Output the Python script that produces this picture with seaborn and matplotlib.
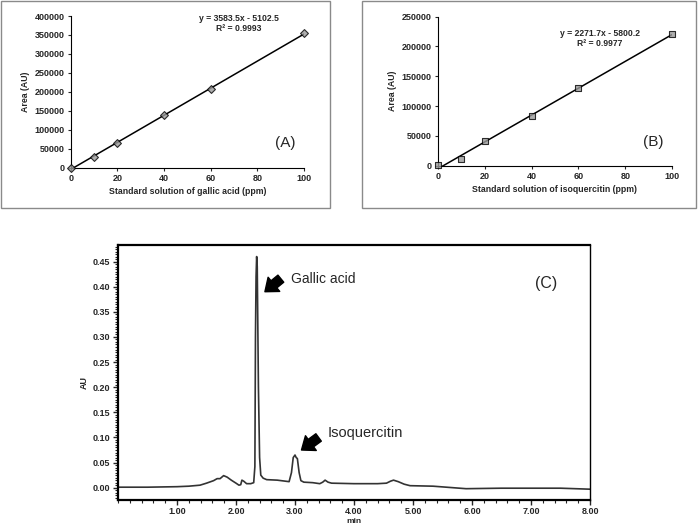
import numpy as np
import pandas as pd
import seaborn as sns
import matplotlib.pyplot as plt
from matplotlib.patches import Rectangle
from matplotlib.ticker import MultipleLocator, FormatStrFormatter

sns.set_theme(style="ticks")
plt.rcParams['font.family'] = ['Liberation Sans', 'DejaVu Sans']

""" Calibration data (A: gallic acid, B: isoquercitin) """
conc_ppm = [0, 10, 20, 40, 60, 100]
area_gallic = [0, 27400, 66000, 139000, 206700, 354400]
area_isoq = [500, 10700, 40900, 82900, 130900, 221000]
eq_gallic = ["y = 3583.5x - 5102.5", "R² = 0.9993"]
eq_isoq = ["y = 2271.7x - 5800.2", "R² = 0.9977"]

""" Chromatogram (C) read off the trace """
time_min = [0.00, 0.50, 1.00, 1.20, 1.39, 1.50, 1.62, 1.68, 1.73, 1.79, 1.85, 1.92,
            2.00, 2.05, 2.08, 2.10, 2.13, 2.18, 2.25, 2.30, 2.32, 2.33, 2.34, 2.35,
            2.36, 2.38, 2.40, 2.42, 2.46, 2.52, 2.70, 2.90, 2.94, 2.97, 3.00, 3.02,
            3.04, 3.07, 3.10, 3.15, 3.30, 3.42, 3.47, 3.51, 3.56, 3.62, 4.00, 4.40,
            4.55, 4.62, 4.67, 4.75, 4.85, 4.95, 5.34, 5.90, 6.50, 7.00, 7.50, 8.00]
au = [0.001, 0.001, 0.002, 0.003, 0.005, 0.009, 0.014, 0.018, 0.018, 0.024, 0.021, 0.015,
      0.009, 0.005, 0.006, 0.015, 0.013, 0.008, 0.008, 0.010, 0.042, 0.300, 0.420, 0.460,
      0.440, 0.200, 0.060, 0.025, 0.019, 0.016, 0.015, 0.012, 0.030, 0.060, 0.065, 0.060,
      0.058, 0.030, 0.014, 0.011, 0.010, 0.008, 0.011, 0.015, 0.011, 0.009, 0.008, 0.008,
      0.009, 0.013, 0.015, 0.012, 0.007, 0.004, 0.003, -0.002, -0.001, -0.001, -0.001, -0.003]

df_a = pd.DataFrame({'conc': conc_ppm, 'area': area_gallic})
df_b = pd.DataFrame({'conc': conc_ppm, 'area': area_isoq})
df_c = pd.DataFrame({'time': time_min, 'au': au})

W, H = 700, 529
fig = plt.figure(figsize=(W / 100, H / 100), dpi=100)

def px_axes(left, top, right, bottom):
    return fig.add_axes([left / W, 1 - bottom / H, (right - left) / W, (bottom - top) / H])

# frames around the two calibration plots
for (x0, y0, x1, y1) in [(1, 1, 330, 208), (362, 1, 696, 208)]:
    fig.patches.append(Rectangle((x0 / W, 1 - y1 / H), (x1 - x0) / W, (y1 - y0) / H,
                                 transform=fig.transFigure, fill=False,
                                 edgecolor='#8a8a8a', linewidth=1.0))

def calib_panel(ax, df, marker, ymax, ystep, eq, eq_pos, tag, xlab):
    sns.regplot(data=df, x='conc', y='area', ax=ax, ci=None, marker=marker,
                scatter_kws=dict(s=16, color='#9a9a9a', edgecolor='black', linewidths=0.8,
                                 zorder=3, clip_on=False),
                line_kws=dict(color='black', lw=1.1))
    ax.set_xlim(0, 100)
    ax.set_ylim(0, ymax)
    ax.xaxis.set_major_locator(MultipleLocator(20))
    ax.yaxis.set_major_locator(MultipleLocator(ystep))
    sns.despine(ax=ax)
    for sp in ax.spines.values():
        sp.set_linewidth(0.8)
        sp.set_color('black')
    ax.tick_params(length=2.5, width=0.8, labelsize=6.5, pad=2)
    for lab in ax.get_xticklabels() + ax.get_yticklabels():
        lab.set_fontweight('bold')
    ax.set_xlabel(xlab, fontsize=6.3, fontweight='bold', labelpad=3)
    ax.set_ylabel('Area (AU)', fontsize=6.3, fontweight='bold', labelpad=3)
    ax.text(eq_pos[0], eq_pos[1], eq[0] + "\n" + eq[1], transform=ax.transAxes,
            ha='center', va='top', fontsize=6.2, fontweight='bold', linespacing=1.15)
    ax.text(0.92, 0.16, tag, transform=ax.transAxes, ha='center', va='center', fontsize=11)

ax_a = px_axes(70.7, 16, 304, 167.7)
calib_panel(ax_a, df_a, 'D', 400000, 50000, eq_gallic, (0.72, 1.015), '(A)',
            'Standard solution of gallic acid (ppm)')

ax_b = px_axes(437.7, 16.7, 672.3, 165.7)
calib_panel(ax_b, df_b, 's', 250000, 50000, eq_isoq, (0.69, 0.92), '(B)',
            'Standard solution of isoquercitin (ppm)')

""" Chromatogram """
ax_c = px_axes(118, 245, 590, 500)
sns.lineplot(data=df_c, x='time', y='au', ax=ax_c, color='#333333', lw=1.2)
ax_c.set_xlim(0, 8)
ax_c.set_ylim(-0.0245, 0.483)
ax_c.xaxis.set_major_locator(MultipleLocator(1))
ax_c.xaxis.set_minor_locator(MultipleLocator(0.2))
ax_c.yaxis.set_major_locator(MultipleLocator(0.05))
ax_c.yaxis.set_minor_locator(MultipleLocator(0.005))
ax_c.xaxis.set_major_formatter(FormatStrFormatter('%.2f'))
ax_c.yaxis.set_major_formatter(FormatStrFormatter('%.2f'))
ax_c.set_xticks([1, 2, 3, 4, 5, 6, 7, 8])
ax_c.set_yticks(np.arange(0, 0.46, 0.05))
ax_c.tick_params(which='major', length=3.5, width=1.0, labelsize=6.5, pad=2)
ax_c.tick_params(axis='x', which='major', pad=1.2)
ax_c.tick_params(which='minor', length=2, width=0.8)
for lab in ax_c.get_xticklabels() + ax_c.get_yticklabels():
    lab.set_fontweight('bold')
for name, sp in ax_c.spines.items():
    sp.set_color('black')
    sp.set_linewidth(1.6 if name in ('top', 'bottom', 'left') else 1.0)
ax_c.set_ylabel('AU', fontsize=6.5, fontweight='bold')
ax_c.yaxis.set_label_coords(-0.062, 0.46)
ax_c.set_xlabel('min', fontsize=6, fontweight='bold')
ax_c.xaxis.set_label_coords(0.5, -0.084)
ax_c.xaxis.label.set_verticalalignment('center')

arrow = dict(arrowstyle='simple,head_width=1.1,head_length=0.7,tail_width=0.55',
             color='black', shrinkA=0, shrinkB=0)
ax_c.annotate('', xy=(2.49, 0.390), xytext=(2.76, 0.416), arrowprops=arrow)
ax_c.annotate('', xy=(3.11, 0.075), xytext=(3.40, 0.100), arrowprops=arrow)
ax_c.text(2.93, 0.416, 'Gallic acid', fontsize=10, ha='left', va='center')
ax_c.text(3.55, 0.108, 'Isoquercitin', fontsize=10.5, ha='left', va='center')
ax_c.text(7.25, 0.407, '(C)', fontsize=11.5, ha='center', va='center')

fig.savefig('out.png', dpi=100)
